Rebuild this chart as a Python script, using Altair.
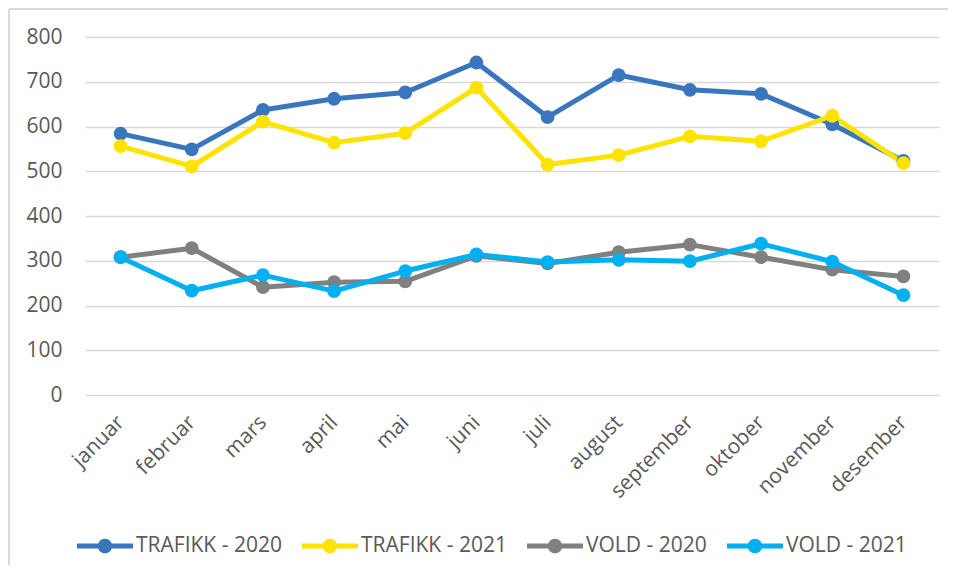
import altair as alt
import pandas as pd

months = ["januar", "februar", "mars", "april", "mai", "juni", "juli",
          "august", "september", "oktober", "november", "desember"]
series_names = ["TRAFIKK - 2020", "TRAFIKK - 2021", "VOLD - 2020", "VOLD - 2021"]
trafikk_2020 = [584, 549, 637, 662, 676, 743, 621, 715, 682, 673, 605, 523]
trafikk_2021 = [556, 511, 611, 564, 585, 687, 515, 536, 578, 567, 624, 518]
vold_2020 = [308, 328, 241, 252, 254, 311, 294, 319, 336, 308, 280, 265]
vold_2021 = [308, 233, 268, 232, 277, 314, 297, 302, 299, 338, 298, 223]
colors = ["#3A76BE", "#FFE300", "#808080", "#00B0F0"]
y_ticks = [0, 100, 200, 300, 400, 500, 600, 700, 800]

rows = []
for name, vals in zip(series_names, [trafikk_2020, trafikk_2021, vold_2020, vold_2021]):
    for m, v in zip(months, vals):
        rows.append({"month": m, "series": name, "value": v})
df = pd.DataFrame(rows)

FONT = "Open Sans"
TXT = "#595959"
FS = 21

x_enc = alt.X("month:N", sort=months, title=None,
              scale=alt.Scale(type="point", padding=0.5),
              axis=alt.Axis(labelAngle=-45, labelAlign="right", labelBaseline="middle",
                            labelPadding=24, ticks=False, tickSize=0, domain=False,
                            grid=False, labelFontSize=FS, labelColor=TXT, labelFont=FONT))
y_enc = alt.Y("value:Q", title=None,
              scale=alt.Scale(domain=[0, 800], nice=False),
              axis=alt.Axis(values=y_ticks, ticks=False, tickSize=0, domain=False,
                            labelPadding=23, labelFontSize=FS, labelColor=TXT, labelFont=FONT,
                            gridColor="#D9D9D9", gridWidth=1.5))

legend_path = ("M -1 -0.09 L 1 -0.09 L 1 0.09 L -1 0.09 Z "
               "M 0.26 0 A 0.26 0.26 0 1 1 -0.26 0 A 0.26 0.26 0 1 1 0.26 0 Z")
legend = alt.Legend(title=None, orient="none", direction="horizontal",
                    legendX=-8, legendY=481,
                    symbolType=legend_path, symbolSize=3136,
                    symbolStrokeWidth=0, symbolOpacity=1,
                    labelFontSize=FS, labelColor=TXT, labelFont=FONT,
                    labelOffset=3, columnPadding=20)
color_scale = alt.Scale(domain=series_names, range=colors)

base = alt.Chart(df)
lines = base.mark_line(strokeWidth=5, strokeCap="round", strokeJoin="round").encode(
    x=x_enc, y=y_enc,
    stroke=alt.Stroke("series:N", scale=color_scale, legend=legend),
    detail="series:N",
)
points = base.mark_point(filled=True, size=190, opacity=1, strokeWidth=0).encode(
    x=alt.X("month:N", sort=months),
    y=alt.Y("value:Q"),
    fill=alt.Fill("series:N", scale=color_scale, legend=legend),
)

frame_left = alt.Chart(df).mark_rule(color="#D9D9D9", strokeWidth=1.5).encode(
    x=alt.value(-76), y=alt.value(-28), y2=alt.value(560))
frame_top = alt.Chart(df).mark_rule(color="#D9D9D9", strokeWidth=1.5).encode(
    x=alt.value(-76), x2=alt.value(880), y=alt.value(-28))

chart = alt.layer(frame_left, frame_top, lines, points).properties(
    width=854, height=358,
    autosize=alt.AutoSizeParams(type="none"),
    padding={"left": 77, "top": 29, "right": 9, "bottom": 170},
    background="white",
).configure_view(stroke=None)

chart.save("out.html", embed_options={"renderer": "svg", "actions": False})
